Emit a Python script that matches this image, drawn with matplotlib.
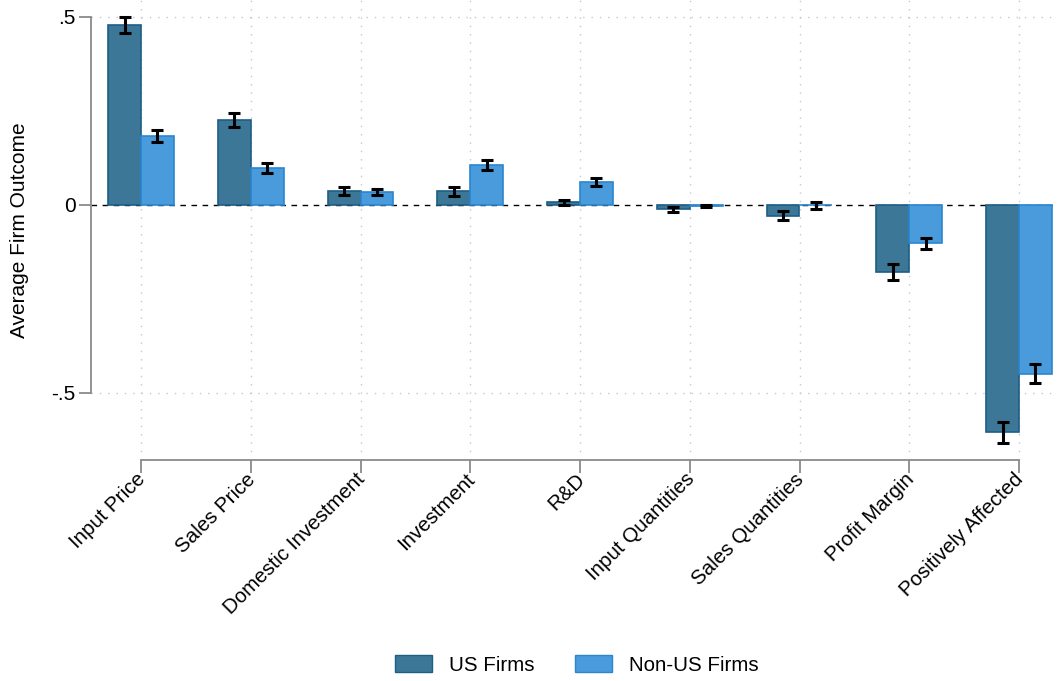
import matplotlib
matplotlib.use("Agg")
import matplotlib.pyplot as plt
import matplotlib.transforms as mtransforms
from matplotlib.patches import Patch
import numpy as np

plt.rcParams['font.family'] = ['Liberation Sans', 'DejaVu Sans']

categories = ["Input Price", "Sales Price", "Domestic Investment", "Investment", "R&D",
              "Input Quantities", "Sales Quantities", "Profit Margin", "Positively Affected"]
us_mean = [0.479, 0.226, 0.037, 0.036, 0.007, -0.011, -0.028, -0.179, -0.605]
us_err = [0.022, 0.019, 0.011, 0.012, 0.007, 0.007, 0.0125, 0.021, 0.029]
nonus_mean = [0.184, 0.098, 0.034, 0.106, 0.061, -0.002, -0.001, -0.102, -0.449]
nonus_err = [0.016, 0.013, 0.0085, 0.0125, 0.0115, 0.002, 0.010, 0.0146, 0.025]
yticks = [-0.5, 0, 0.5]
yticklabels = ["-.5", "0", ".5"]

us_face, us_edge = "#3c7797", "#1d5e86"
nu_face, nu_edge = "#4a9bdb", "#2a86cf"
axis_gray = "#8a8a8a"

fig = plt.figure(figsize=(10.58, 6.81), dpi=100)
W, H = 1058, 681
ax = fig.add_axes([91 / W, 1 - 460 / H, (1058 - 91) / W, 460 / H])

x = np.arange(len(categories))
bw = 0.3
ax.bar(x - bw / 2, us_mean, width=bw, color=us_face, edgecolor=us_edge, linewidth=1.2, zorder=2)
ax.bar(x + bw / 2, nonus_mean, width=bw, color=nu_face, edgecolor=nu_edge, linewidth=1.2, zorder=2)
ax.errorbar(x - bw / 2, us_mean, yerr=us_err, fmt="none", ecolor="black", elinewidth=2.2,
            capsize=4.5, capthick=2.2, zorder=4)
ax.errorbar(x + bw / 2, nonus_mean, yerr=nonus_err, fmt="none", ecolor="black", elinewidth=2.2,
            capsize=4.5, capthick=2.2, zorder=4)

ax.axhline(0, color="black", linestyle=(0, (4, 4)), linewidth=1.0, zorder=1)

# dotted grid
for xi in x:
    ax.axvline(xi, color="#c8c8c8", linestyle=(0, (1, 5)), linewidth=1.0, zorder=0)
for yv in (-0.5, 0.5):
    ax.axhline(yv, color="#c8c8c8", linestyle=(0, (1, 5)), linewidth=1.0, zorder=0)

ax.set_xlim((91 - 141) / 109.75, (1058 - 141) / 109.75)
ax.set_ylim(-255 / 376, 205 / 376)

for s in ("top", "right"):
    ax.spines[s].set_visible(False)
ax.spines["left"].set_color(axis_gray)
ax.spines["bottom"].set_color(axis_gray)
ax.spines["left"].set_linewidth(1.3)
ax.spines["bottom"].set_linewidth(1.3)
ax.spines["left"].set_bounds(-0.5, 0.5)
ax.spines["bottom"].set_bounds(0, len(categories) - 1)

ax.set_yticks(yticks)
ax.set_yticklabels(yticklabels, fontsize=15)
ax.set_xticks(x)
ax.set_xticklabels(categories, fontsize=14.8, rotation=45, ha="right", rotation_mode="anchor")
ax.tick_params(axis="both", color=axis_gray, width=1.3, length=9)
ax.tick_params(axis="x", pad=3)
ax.tick_params(axis="y", pad=2)
ax.set_ylabel("Average Firm Outcome", fontsize=15, labelpad=16)

# nudge the rotated category labels so their ends sit right under the ticks
shift = mtransforms.ScaledTranslation(-5 / 100, 7 / 100, fig.dpi_scale_trans)
for lbl in ax.get_xticklabels():
    lbl.set_transform(lbl.get_transform() + shift)

handles = [Patch(facecolor=us_face, edgecolor=us_edge, label="US Firms"),
           Patch(facecolor=nu_face, edgecolor=nu_edge, label="Non-US Firms")]
fig.legend(handles=handles, loc="center", bbox_to_anchor=(577 / W, 1 - 665 / H), ncol=2,
           frameon=False, fontsize=14.8, handlelength=1.8, handleheight=0.87, columnspacing=2.0,
           handletextpad=0.8)

fig.savefig("out.png", dpi=100)
